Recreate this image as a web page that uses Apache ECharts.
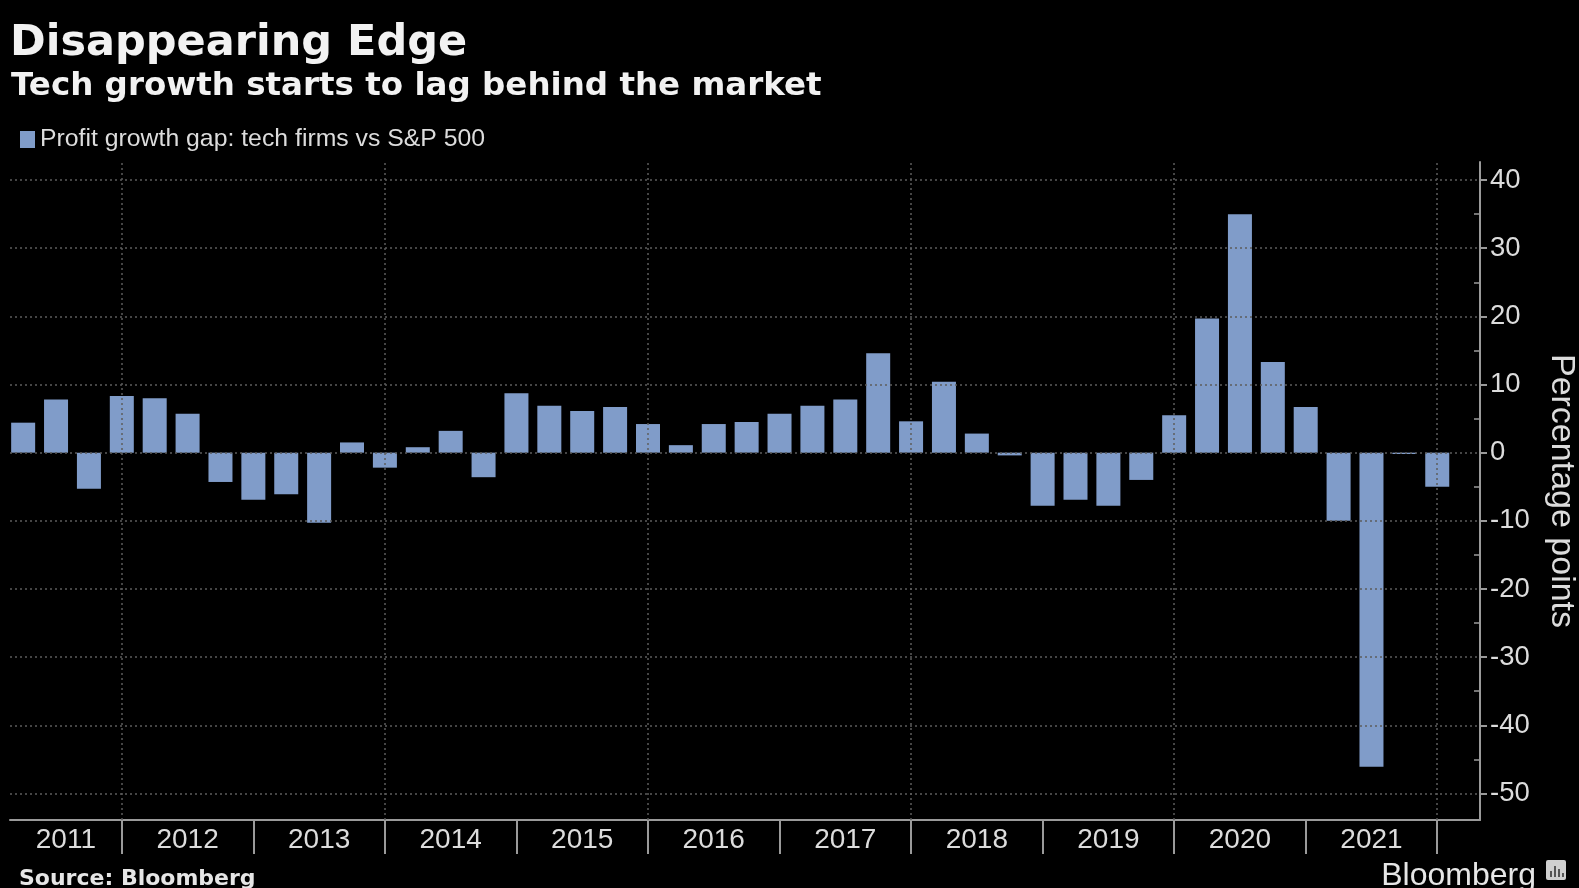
<!DOCTYPE html>
<html><head><meta charset="utf-8">
<script src="https://cdn.jsdelivr.net/npm/echarts@6/dist/echarts.min.js"></script>
<style>html,body{margin:0;padding:0;background:#000}#c{width:1579px;height:888px}</style>
</head><body><div id="c"></div>
<script>
// ---- data ----
const quarters = [
  '2011 Q1','2011 Q2','2011 Q3','2011 Q4',
  '2012 Q1','2012 Q2','2012 Q3','2012 Q4',
  '2013 Q1','2013 Q2','2013 Q3','2013 Q4',
  '2014 Q1','2014 Q2','2014 Q3','2014 Q4',
  '2015 Q1','2015 Q2','2015 Q3','2015 Q4',
  '2016 Q1','2016 Q2','2016 Q3','2016 Q4',
  '2017 Q1','2017 Q2','2017 Q3','2017 Q4',
  '2018 Q1','2018 Q2','2018 Q3','2018 Q4',
  '2019 Q1','2019 Q2','2019 Q3','2019 Q4',
  '2020 Q1','2020 Q2','2020 Q3','2020 Q4',
  '2021 Q1','2021 Q2','2021 Q3','2021 Q4'
];
const gapValues = [
  4.4, 7.8, -5.3, 8.3,
  8.0, 5.7, -4.3, -6.9,
  -6.1, -10.3, 1.5, -2.2,
  0.8, 3.2, -3.6, 8.7,
  6.9, 6.1, 6.7, 4.2,
  1.1, 4.2, 4.5, 5.7,
  6.9, 7.8, 14.6, 4.6,
  10.4, 2.8, -0.4, -7.8,
  -6.9, -7.8, -4.0, 5.5,
  19.7, 35.0, 13.3, 6.7,
  -10.0, -46.1, -0.2, -5.0
];
const years = ['2011','2012','2013','2014','2015','2016','2017','2018','2019','2020','2021'];
const yTickValues = [-50, -40, -30, -20, -10, 0, 10, 20, 30, 40];
const yMinorTickValues = [-45, -35, -25, -15, -5, 5, 15, 25, 35];
const seriesName = 'Profit growth gap: tech firms vs S&P 500';

// ---- layout helpers ----
const X_MIN = -0.4, X_MAX = 44.3;
const Y_MIN = -53.9, Y_MAX = 42.65;
const barData = quarters.map((q, i) => [i, gapValues[i]]);
// year boundaries at each Q4 (quarter-end = year end)
const boundaries = [];
quarters.forEach((q, i) => { if (q.endsWith('Q4')) boundaries.push(i); });
const yearLabelPos = years.map((y, k) => ((k === 0 ? X_MIN : boundaries[k - 1]) + boundaries[k]) / 2);
// dotted vertical grid at boundaries into even years
const evenBoundaries = boundaries.filter((b, k) => (parseInt(years[k], 10) + 1) % 2 === 0);

const axisGray = '#9a9a9a';
const textCol = '#dcdcdc';
const gridCol = '#5c5c5c';

const chart = echarts.init(document.getElementById('c'), null, {renderer: 'canvas'});
chart.setOption({
  backgroundColor: '#000',
  animation: false,
  title: [
    {text: 'Disappearing Edge', left: 5, top: 15,
      textStyle: {fontFamily: 'DejaVu Sans', fontWeight: 'bold', fontSize: 43, color: '#f2f2f2', lineHeight: 48}},
    {text: 'Tech growth starts to lag behind the market', left: 6, top: 63,
      textStyle: {fontFamily: 'DejaVu Sans', fontWeight: 'bold', fontSize: 32.5, color: '#f2f2f2', lineHeight: 38}},
    {text: 'Source: Bloomberg', left: 14, top: 861,
      textStyle: {fontFamily: 'DejaVu Sans', fontWeight: 'bold', fontSize: 22, color: '#e6e6e6', lineHeight: 26}},
    {text: 'Bloomberg', right: 38, top: 852,
      textStyle: {fontFamily: 'Liberation Sans', fontWeight: 'normal', fontSize: 32, color: '#e6e6e6', lineHeight: 38}}
  ],
  legend: {
    data: [seriesName], left: 15, top: 122, icon: 'rect', itemWidth: 15, itemHeight: 17, itemGap: 10,
    textStyle: {fontFamily: 'Liberation Sans', fontSize: 24.8, color: textCol, padding: [0, 0, 0, 0]}
  },
  grid: {left: 10, right: 99, top: 162, bottom: 68, outerBoundsMode: 'none', containLabel: false},
  xAxis: {
    type: 'value', min: X_MIN, max: X_MAX,
    axisLine: {show: true, onZero: false, lineStyle: {color: axisGray, width: 2}},
    axisTick: {show: true, customValues: boundaries, length: 34, lineStyle: {color: axisGray, width: 2}},
    axisLabel: {show: true, customValues: yearLabelPos, margin: 6,
      fontFamily: 'Liberation Sans', fontSize: 28, color: textCol,
      formatter: function (v) {
        let best = 0, d = Infinity;
        yearLabelPos.forEach((p, k) => { if (Math.abs(p - v) < d) { d = Math.abs(p - v); best = k; } });
        return years[best];
      }},
    splitLine: {show: false}
  },
  yAxis: [
    {
      type: 'value', position: 'right', min: Y_MIN, max: Y_MAX, offset: 0,
      axisLine: {show: true, onZero: false, lineStyle: {color: axisGray, width: 2}},
      axisTick: {show: true, customValues: yTickValues, inside: false, length: 7, lineStyle: {color: axisGray, width: 2}},
      axisLabel: {show: true, customValues: yTickValues, margin: 10,
        fontFamily: 'Liberation Sans', fontSize: 27.5, color: textCol},
      splitLine: {show: false},
      name: 'Percentage points', nameLocation: 'middle', nameRotate: -90, nameGap: 64,
      nameTextStyle: {fontFamily: 'Liberation Sans', fontSize: 34, color: textCol}
    },
    {
      type: 'value', position: 'right', min: Y_MIN, max: Y_MAX, offset: 0,
      axisLine: {show: false, onZero: false},
      axisTick: {show: true, customValues: yMinorTickValues, inside: true, length: 6, lineStyle: {color: axisGray, width: 1.5}},
      axisLabel: {show: false},
      splitLine: {show: false}
    }
  ],
  graphic: [
    {type: 'rect', left: 1546, top: 860, shape: {width: 20, height: 20, r: 2}, style: {fill: '#cfcfcf'}},
    {type: 'rect', left: 1550, top: 871, shape: {width: 2, height: 6}, style: {fill: '#555'}},
    {type: 'rect', left: 1554, top: 866, shape: {width: 2, height: 11}, style: {fill: '#555'}},
    {type: 'rect', left: 1558, top: 869, shape: {width: 2, height: 8}, style: {fill: '#555'}},
    {type: 'rect', left: 1562, top: 873, shape: {width: 2, height: 4}, style: {fill: '#555'}}
  ],
  series: [
    {
      name: 'grid', type: 'line', data: [], z: 1, silent: true,
      markLine: {
        silent: true, symbol: ['none', 'none'], label: {show: false},
        lineStyle: {color: gridCol, type: [2, 3], width: 1.5},
        emphasis: {disabled: true},
        data: yTickValues.map(v => ({yAxis: v})).concat(evenBoundaries.map(b => ({xAxis: b})))
      }
    },
    {
      name: seriesName, type: 'bar', data: barData, barWidth: 24, z: 3,
      itemStyle: {color: '#809cc9'}
    }
  ]
});
</script>
</body></html>
